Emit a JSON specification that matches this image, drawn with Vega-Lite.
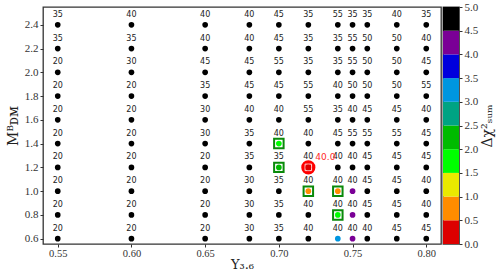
{
"$schema": "https://vega.github.io/schema/vega-lite/v6.json",
"padding": {"left": 5, "top": 0, "right": 1, "bottom": 0},
"autosize": {"type": "pad"},
"spacing": 0,
"config": {
  "view": {"stroke": "#333", "strokeWidth": 1.3},
  "axis": {"labelFont": "Liberation Serif", "titleFont": "DejaVu Serif", "labelFontSize": 11, "labelColor": "#333", "tickColor": "#333", "domain": false, "grid": false, "tickSize": 3, "titleFontWeight": "normal", "titleColor": "#222"}
},
"hconcat": [
{
  "width": 398, "height": 237,
  "data": {"values": [
{"x":0.55,"y":2.4,"n":35,"chi":5},{"x":0.60,"y":2.4,"n":40,"chi":5},{"x":0.65,"y":2.4,"n":40,"chi":5},{"x":0.68,"y":2.4,"n":40,"chi":5},{"x":0.70,"y":2.4,"n":45,"chi":5},{"x":0.72,"y":2.4,"n":35,"chi":5},{"x":0.74,"y":2.4,"n":55,"chi":5},{"x":0.75,"y":2.4,"n":35,"chi":5},{"x":0.76,"y":2.4,"n":35,"chi":5},{"x":0.78,"y":2.4,"n":40,"chi":5},{"x":0.80,"y":2.4,"n":35,"chi":5},
{"x":0.55,"y":2.2,"n":35,"chi":5},{"x":0.60,"y":2.2,"n":35,"chi":5},{"x":0.65,"y":2.2,"n":40,"chi":5},{"x":0.68,"y":2.2,"n":40,"chi":5},{"x":0.70,"y":2.2,"n":45,"chi":5},{"x":0.72,"y":2.2,"n":35,"chi":5},{"x":0.74,"y":2.2,"n":35,"chi":5},{"x":0.75,"y":2.2,"n":55,"chi":5},{"x":0.76,"y":2.2,"n":50,"chi":5},{"x":0.78,"y":2.2,"n":50,"chi":5},{"x":0.80,"y":2.2,"n":40,"chi":5},
{"x":0.55,"y":2.0,"n":20,"chi":5},{"x":0.60,"y":2.0,"n":30,"chi":5},{"x":0.65,"y":2.0,"n":45,"chi":5},{"x":0.68,"y":2.0,"n":45,"chi":5},{"x":0.70,"y":2.0,"n":55,"chi":5},{"x":0.72,"y":2.0,"n":35,"chi":5},{"x":0.74,"y":2.0,"n":35,"chi":5},{"x":0.75,"y":2.0,"n":55,"chi":5},{"x":0.76,"y":2.0,"n":50,"chi":5},{"x":0.78,"y":2.0,"n":50,"chi":5},{"x":0.80,"y":2.0,"n":45,"chi":5},
{"x":0.55,"y":1.8,"n":20,"chi":5},{"x":0.60,"y":1.8,"n":20,"chi":5},{"x":0.65,"y":1.8,"n":35,"chi":5},{"x":0.68,"y":1.8,"n":45,"chi":5},{"x":0.70,"y":1.8,"n":45,"chi":5},{"x":0.72,"y":1.8,"n":55,"chi":5},{"x":0.74,"y":1.8,"n":40,"chi":5},{"x":0.75,"y":1.8,"n":50,"chi":5},{"x":0.76,"y":1.8,"n":50,"chi":5},{"x":0.78,"y":1.8,"n":50,"chi":5},{"x":0.80,"y":1.8,"n":55,"chi":5},
{"x":0.55,"y":1.6,"n":20,"chi":5},{"x":0.60,"y":1.6,"n":20,"chi":5},{"x":0.65,"y":1.6,"n":30,"chi":5},{"x":0.68,"y":1.6,"n":40,"chi":5},{"x":0.70,"y":1.6,"n":40,"chi":5},{"x":0.72,"y":1.6,"n":55,"chi":5},{"x":0.74,"y":1.6,"n":35,"chi":5},{"x":0.75,"y":1.6,"n":40,"chi":5},{"x":0.76,"y":1.6,"n":45,"chi":5},{"x":0.78,"y":1.6,"n":45,"chi":5},{"x":0.80,"y":1.6,"n":40,"chi":5},
{"x":0.55,"y":1.4,"n":20,"chi":5},{"x":0.60,"y":1.4,"n":20,"chi":5},{"x":0.65,"y":1.4,"n":30,"chi":5},{"x":0.68,"y":1.4,"n":35,"chi":5},{"x":0.70,"y":1.4,"n":40,"chi":1.7,"box":1},{"x":0.72,"y":1.4,"n":40,"chi":5},{"x":0.74,"y":1.4,"n":45,"chi":5},{"x":0.75,"y":1.4,"n":55,"chi":5},{"x":0.76,"y":1.4,"n":55,"chi":5},{"x":0.78,"y":1.4,"n":55,"chi":5},{"x":0.80,"y":1.4,"n":45,"chi":5},
{"x":0.55,"y":1.2,"n":20,"chi":5},{"x":0.60,"y":1.2,"n":20,"chi":5},{"x":0.65,"y":1.2,"n":20,"chi":5},{"x":0.68,"y":1.2,"n":35,"chi":5},{"x":0.70,"y":1.2,"n":35,"chi":2.2,"box":1},{"x":0.72,"y":1.2,"n":40,"chi":0.0,"best":1,"tag":"40.0"},{"x":0.74,"y":1.2,"n":40,"chi":5},{"x":0.75,"y":1.2,"n":40,"chi":5},{"x":0.76,"y":1.2,"n":45,"chi":5},{"x":0.78,"y":1.2,"n":45,"chi":5},{"x":0.80,"y":1.2,"n":45,"chi":5},
{"x":0.55,"y":1.0,"n":20,"chi":5},{"x":0.60,"y":1.0,"n":20,"chi":5},{"x":0.65,"y":1.0,"n":20,"chi":5},{"x":0.68,"y":1.0,"n":30,"chi":5},{"x":0.70,"y":1.0,"n":35,"chi":5},{"x":0.72,"y":1.0,"n":40,"chi":0.7,"box":1},{"x":0.74,"y":1.0,"n":40,"chi":0.7,"box":1},{"x":0.75,"y":1.0,"n":40,"chi":4.2},{"x":0.76,"y":1.0,"n":45,"chi":5},{"x":0.78,"y":1.0,"n":45,"chi":5},{"x":0.80,"y":1.0,"n":40,"chi":5},
{"x":0.55,"y":0.8,"n":20,"chi":5},{"x":0.60,"y":0.8,"n":20,"chi":5},{"x":0.65,"y":0.8,"n":20,"chi":5},{"x":0.68,"y":0.8,"n":30,"chi":5},{"x":0.70,"y":0.8,"n":35,"chi":5},{"x":0.72,"y":0.8,"n":40,"chi":5},{"x":0.74,"y":0.8,"n":40,"chi":1.7,"box":1},{"x":0.75,"y":0.8,"n":40,"chi":4.2},{"x":0.76,"y":0.8,"n":45,"chi":5},{"x":0.78,"y":0.8,"n":45,"chi":5},{"x":0.80,"y":0.8,"n":40,"chi":5},
{"x":0.55,"y":0.6,"n":20,"chi":5},{"x":0.60,"y":0.6,"n":20,"chi":5},{"x":0.65,"y":0.6,"n":20,"chi":5},{"x":0.68,"y":0.6,"n":30,"chi":5},{"x":0.70,"y":0.6,"n":35,"chi":5},{"x":0.72,"y":0.6,"n":40,"chi":5},{"x":0.74,"y":0.6,"n":40,"chi":3.2},{"x":0.75,"y":0.6,"n":40,"chi":4.2},{"x":0.76,"y":0.6,"n":40,"chi":5},{"x":0.78,"y":0.6,"n":45,"chi":5},{"x":0.80,"y":0.6,"n":45,"chi":5}
  ]},
  "encoding": {
    "x": {"field": "x", "type": "quantitative", "scale": {"domain": [0.54, 0.81], "nice": false, "zero": false},
      "axis": {"values": [0.55, 0.6, 0.65, 0.7, 0.75, 0.8], "format": ".2f", "title": "Υ₃.₆", "titleFontSize": 13, "titlePadding": 0, "labelPadding": 1, "labelFontSize": 10.5}},
    "y": {"field": "y", "type": "quantitative", "scale": {"domain": [0.555, 2.55], "nice": false, "zero": false},
      "axis": {"values": [0.6, 0.8, 1.0, 1.2, 1.4, 1.6, 1.8, 2.0, 2.2, 2.4], "format": ".1f", "title": "Mᴮᴅᴍ", "titleFontSize": 14, "titlePadding": 4}}
  },
  "layer": [
    {"transform": [{"filter": "datum.best == 1"}], "mark": {"type": "circle", "size": 200, "color": "#ff0000", "opacity": 1}},
    {"transform": [{"filter": "datum.box == 1"}], "mark": {"type": "square", "size": 90, "filled": true, "fill": "#ffffff", "stroke": "#0a8a0a", "strokeWidth": 2, "opacity": 1}},
    {"transform": [{"filter": "datum.best == 1"}], "mark": {"type": "square", "size": 42, "filled": true, "fill": "#e00000", "stroke": "#ffd8d8", "strokeWidth": 1, "opacity": 1}},
    {"mark": {"type": "circle", "size": 32, "opacity": 1},
     "encoding": {"color": {"field": "chi", "type": "quantitative", "legend": null,
        "scale": {"type": "threshold", "domain": [0.5, 1, 1.5, 2, 2.5, 3, 3.5, 4, 4.5],
          "range": ["#dd0000", "#ff8c00", "#eaea00", "#00ff00", "#00bb00", "#00a383", "#0096e0", "#0000dd", "#7a0096", "#000000"]}}}},
    {"mark": {"type": "text", "font": "DejaVu Sans", "fontSize": 8, "dy": -10, "color": "#222"}, "encoding": {"text": {"field": "n"}}},
    {"transform": [{"filter": "datum.best == 1"}], "mark": {"type": "text", "font": "DejaVu Sans", "fontSize": 9, "align": "left", "dx": 7, "dy": -10, "color": "#ff2a2a"}, "encoding": {"text": {"field": "tag"}}}
  ]
},
{
  "width": 16, "height": 237,
  "data": {"values": [
    {"lo": 0.0, "hi": 0.5, "mid": 0.25}, {"lo": 0.5, "hi": 1.0, "mid": 0.75}, {"lo": 1.0, "hi": 1.5, "mid": 1.25}, {"lo": 1.5, "hi": 2.0, "mid": 1.75}, {"lo": 2.0, "hi": 2.5, "mid": 2.25},
    {"lo": 2.5, "hi": 3.0, "mid": 2.75}, {"lo": 3.0, "hi": 3.5, "mid": 3.25}, {"lo": 3.5, "hi": 4.0, "mid": 3.75}, {"lo": 4.0, "hi": 4.5, "mid": 4.25}, {"lo": 4.5, "hi": 5.0, "mid": 4.75}
  ]},
  "mark": {"type": "rect"},
  "encoding": {
    "y": {"field": "lo", "type": "quantitative", "scale": {"domain": [0, 5], "nice": false, "zero": false},
      "axis": {"orient": "right", "values": [0, 0.5, 1, 1.5, 2, 2.5, 3, 3.5, 4, 4.5, 5], "format": ".1f", "title": "Δχ²ₛᵤₘ", "titleAngle": -90, "titleBaseline": "top", "titleFontSize": 14, "titlePadding": 3}},
    "y2": {"field": "hi"},
    "color": {"field": "mid", "type": "quantitative", "legend": null,
      "scale": {"type": "threshold", "domain": [0.5, 1, 1.5, 2, 2.5, 3, 3.5, 4, 4.5],
        "range": ["#dd0000", "#ff8c00", "#eaea00", "#00ff00", "#00bb00", "#00a383", "#0096e0", "#0000dd", "#7a0096", "#000000"]}}
  }
}
]
}
